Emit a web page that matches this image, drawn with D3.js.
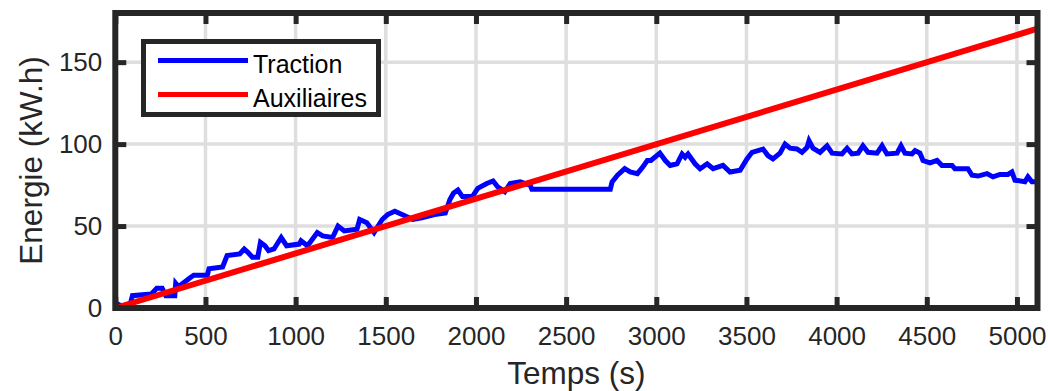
<!DOCTYPE html>
<html>
<head>
<meta charset="utf-8">
<script src="https://cdn.jsdelivr.net/npm/d3@7"></script>
<style>
  html, body { margin: 0; padding: 0; background: #fff; }
  svg { display: block; font-family: "Liberation Sans", Arial, sans-serif; }
</style>
</head>
<body>
<svg id="chart" width="1048" height="391"></svg>
<script>
// Energy consumed over the trip (kWh) versus time (s)
const tractionTime = [0, 40, 80, 95, 200, 230, 260, 280, 330, 335, 350, 415, 435, 510, 520, 595, 620, 690, 715, 735,
  760, 790, 805, 830, 850, 880, 920, 950, 1020, 1030, 1065, 1080, 1120, 1150, 1205, 1235, 1270, 1340, 1355, 1395,
  1435, 1480, 1510, 1550, 1590, 1650, 1700, 1770, 1830, 1855, 1875, 1900, 1925, 1980, 2010, 2060, 2095, 2120, 2160,
  2190, 2245, 2300, 2310, 2745, 2755, 2785, 2825, 2855, 2895, 2925, 2950, 2970, 3020, 3050, 3077, 3115, 3143, 3160,
  3176, 3215, 3243, 3282, 3315, 3370, 3409, 3465, 3503, 3531, 3592, 3619, 3647, 3686, 3714, 3742, 3780, 3808, 3836,
  3847, 3869, 3908, 3947, 3975, 4030, 4058, 4085, 4119, 4146, 4174, 4224, 4252, 4279, 4335, 4357, 4379, 4418, 4435,
  4462, 4479, 4518, 4557, 4584, 4640, 4656, 4728, 4751, 4784, 4834, 4867, 4906, 4950, 4972, 4989, 5044, 5061, 5083, 5114];
const tractionEnergy = [3, 1, 1, 7.5, 8.5, 12, 12, 7.5, 7.5, 15, 13, 18.5, 20, 20, 24, 25, 32, 33, 36, 34,
  31, 31, 40, 38, 35, 36, 43, 38, 39, 41, 38, 40, 46, 44, 43, 50, 47, 48, 54, 52,
  46, 54, 57, 59, 57, 54, 55, 57, 58, 66, 70, 72, 68, 68, 73, 76, 77.5, 74, 71,
  76, 77, 75, 72.5, 72.5, 77, 81, 85, 83, 82, 86, 90, 90, 94.5, 90, 87, 88, 94, 92,
  94, 88, 85, 88, 85, 87, 83, 84, 91, 95, 97, 93, 91, 94.5, 100, 97.5, 97, 95, 98,
  102, 97.5, 95, 99, 94.5, 94, 97.5, 94, 94.5, 99, 95, 94.5, 99, 94, 94.5, 99, 94.5, 94, 96,
  94.5, 90, 88.5, 90, 87, 87, 85, 85, 81, 80.5, 82, 80, 81.5, 81.5, 83, 78, 77, 80, 77, 77];

const auxTime = [0, 5114];
const auxEnergy = [0, 170.4];

const xTicks = [0, 500, 1000, 1500, 2000, 2500, 3000, 3500, 4000, 4500, 5000];
const yTicks = [0, 50, 100, 150];
const seriesNames = ["Traction", "Auxiliaires"];
const seriesColors = ["#0000ff", "#ff0000"];

const svg = d3.select("#chart");
const plotLeft = 115.3, plotRight = 1037.5, plotTop = 13, plotBottom = 308;

const x = d3.scaleLinear().domain([0, 5114]).range([plotLeft, plotRight]);
const y = d3.scaleLinear().domain([0, 180]).range([plotBottom, plotTop]);

const axisColor = "#262626";
const gridColor = "#dedede";
const fmt = d3.format("d");

// grid
const grid = svg.append("g");
grid.selectAll("line.vx").data(xTicks).enter().append("line")
  .attr("x1", d => x(d)).attr("x2", d => x(d)).attr("y1", plotTop).attr("y2", plotBottom)
  .attr("stroke", gridColor).attr("stroke-width", 3.5);
grid.selectAll("line.hy").data(yTicks).enter().append("line")
  .attr("x1", plotLeft).attr("x2", plotRight).attr("y1", d => y(d)).attr("y2", d => y(d))
  .attr("stroke", gridColor).attr("stroke-width", 3.5);

// data lines
const line = d3.line().x(d => x(d[0])).y(d => y(d[1]));
const traction = tractionTime.map((t, i) => [t, tractionEnergy[i]]);
const aux = auxTime.map((t, i) => [t, auxEnergy[i]]);

svg.append("path").datum(traction).attr("d", line)
  .attr("fill", "none").attr("stroke", seriesColors[0]).attr("stroke-width", 5)
  .attr("stroke-linejoin", "miter");
svg.append("path").datum(aux).attr("d", line)
  .attr("fill", "none").attr("stroke", seriesColors[1]).attr("stroke-width", 6);

// axes with inward ticks
function styleAxis(g) {
  g.select(".domain").remove();
  g.selectAll(".tick line").attr("stroke", axisColor).attr("stroke-width", 5);
  g.selectAll(".tick text").attr("fill", axisColor).attr("font-size", 26)
    .attr("font-family", "Liberation Sans, Arial, sans-serif");
}
const tickLen = 11;
svg.append("g").attr("transform", `translate(0,${plotBottom})`)
  .call(d3.axisBottom(x).tickValues(xTicks).tickFormat(fmt).tickSizeInner(-tickLen).tickSizeOuter(0).tickPadding(19))
  .call(styleAxis);
svg.append("g").attr("transform", `translate(${plotLeft},0)`)
  .call(d3.axisLeft(y).tickValues(yTicks).tickFormat(fmt).tickSizeInner(-tickLen).tickSizeOuter(0).tickPadding(13))
  .call(styleAxis);
svg.append("g").attr("transform", `translate(0,${plotTop})`)
  .call(d3.axisTop(x).tickValues(xTicks).tickSizeInner(-tickLen).tickSizeOuter(0).tickFormat(""))
  .call(styleAxis);
svg.append("g").attr("transform", `translate(${plotRight},0)`)
  .call(d3.axisRight(y).tickValues(yTicks).tickSizeInner(-tickLen).tickSizeOuter(0).tickFormat(""))
  .call(styleAxis);

// box
svg.append("rect").attr("x", plotLeft).attr("y", plotTop)
  .attr("width", plotRight - plotLeft).attr("height", plotBottom - plotTop)
  .attr("fill", "none").attr("stroke", axisColor).attr("stroke-width", 6);

// axis titles
svg.append("text").attr("x", (plotLeft + plotRight) / 2).attr("y", 384)
  .attr("text-anchor", "middle").attr("font-size", 31.5).attr("fill", axisColor)
  .text("Temps (s)");
svg.append("text").attr("transform", `translate(42,${(plotTop + plotBottom) / 2}) rotate(-90)`)
  .attr("text-anchor", "middle").attr("font-size", 31.5).attr("fill", axisColor)
  .text("Energie (kW.h)");

// legend
const legend = svg.append("g");
legend.append("rect").attr("x", 143.5).attr("y", 41.5).attr("width", 235).attr("height", 73)
  .attr("fill", "#fff").attr("stroke", axisColor).attr("stroke-width", 5);
const legendRows = [60.5, 94.5];
seriesNames.forEach((name, i) => {
  legend.append("line").attr("x1", 158).attr("x2", 248)
    .attr("y1", legendRows[i]).attr("y2", legendRows[i])
    .attr("stroke", seriesColors[i]).attr("stroke-width", 5);
  legend.append("text").attr("x", 253).attr("y", legendRows[i] + 12)
    .attr("font-size", 25).attr("fill", "#000").text(name);
});
</script>
</body>
</html>
